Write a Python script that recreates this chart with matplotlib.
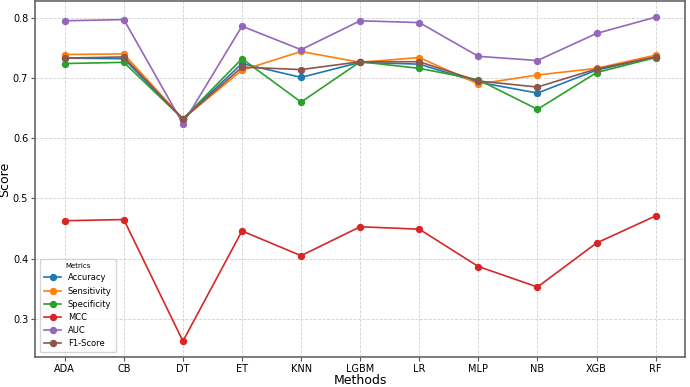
import matplotlib
matplotlib.use("Agg")
import matplotlib.pyplot as plt

methods = ["ADA", "CB", "DT", "ET", "KNN", "LGBM", "LR", "MLP", "NB", "XGB", "RF"]
accuracy    = [0.733, 0.732, 0.632, 0.724, 0.701, 0.726, 0.723, 0.693, 0.675, 0.713, 0.735]
sensitivity = [0.739, 0.740, 0.632, 0.713, 0.744, 0.726, 0.734, 0.690, 0.705, 0.716, 0.738]
specificity = [0.724, 0.726, 0.632, 0.732, 0.660, 0.727, 0.716, 0.697, 0.648, 0.709, 0.734]
mcc         = [0.463, 0.465, 0.263, 0.446, 0.405, 0.453, 0.449, 0.387, 0.353, 0.426, 0.471]
auc         = [0.795, 0.797, 0.624, 0.786, 0.747, 0.795, 0.792, 0.736, 0.729, 0.774, 0.801]
f1          = [0.733, 0.735, 0.632, 0.718, 0.714, 0.727, 0.727, 0.695, 0.685, 0.715, 0.735]

series = [("Accuracy", accuracy), ("Sensitivity", sensitivity), ("Specificity", specificity),
          ("MCC", mcc), ("AUC", auc), ("F1-Score", f1)]
colors = ["#1f77b4", "#ff7f0e", "#2ca02c", "#d62728", "#9467bd", "#8c564b"]

fig = plt.figure(figsize=(6.9, 3.87), dpi=100)
ax = fig.add_axes([0.051, 0.0765, 0.942, 0.921])

x = list(range(len(methods)))
for (name, vals), c in zip(series, colors):
    ax.plot(x, vals, marker="o", markersize=4.3, linewidth=1.2, color=c, label=name)

ax.set_xticks(x)
ax.set_xticklabels(methods, fontsize=7)
ax.set_yticks([0.3, 0.4, 0.5, 0.6, 0.7, 0.8])
ax.tick_params(axis="y", labelsize=7)
ax.tick_params(length=3, width=0.8, color="#555555", pad=2)
ax.set_xlabel("Methods", fontsize=9, labelpad=0)
ax.set_ylabel("Score", fontsize=9, labelpad=1)
ax.grid(True, linestyle="--", color="#cccccc", linewidth=0.6, alpha=0.9)
for s in ax.spines.values():
    s.set_color("#666666")
    s.set_linewidth(1.2)

leg = ax.legend(title="Metrics", loc="lower left", fontsize=6, title_fontsize=5,
                frameon=True, borderpad=0.5, labelspacing=0.5, handlelength=2.0,
                borderaxespad=0.6)
leg.get_frame().set_edgecolor("#cccccc")

fig.savefig("out.png", dpi=100)
